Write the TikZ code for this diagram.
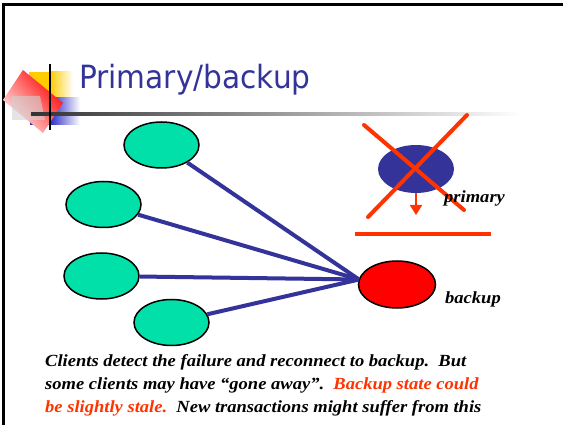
\documentclass[tikz,border=0pt]{standalone}
\usepackage{fontspec}
\setmainfont{Liberation Serif}[FakeStretch=1.09]
\newfontfamily\titlefont{DejaVu Sans}[FakeStretch=0.925]
\usetikzlibrary{arrows.meta,shapes.geometric,fadings}

\definecolor{clientgreen}{RGB}{0,224,168}
\definecolor{linkblue}{RGB}{51,51,153}
\definecolor{alertred}{RGB}{255,51,0}
\definecolor{backupred}{RGB}{255,0,0}
\definecolor{decoyellow}{RGB}{255,204,0}
\definecolor{decoblue}{RGB}{51,51,204}

\tikzset{
  client/.style={ellipse, draw=black, line width=1.5pt, fill=clientgreen,
    minimum width=75pt, minimum height=46pt, inner sep=0pt},
  server/.style={ellipse, minimum width=77pt, minimum height=47pt, inner sep=0pt},
  link/.style={draw=linkblue, line width=4pt},
  cross/.style={draw=alertred, line width=4pt, line cap=round},
  label/.style={font=\fontsize{17}{17}\selectfont\bfseries\itshape, anchor=base west, inner sep=0pt},
  bodytext/.style={font=\fontsize{17}{23}\selectfont\bfseries\itshape, anchor=base west, inner sep=0pt}
}

\begin{document}
\begin{tikzpicture}[x=1pt,y=-1pt]
\useasboundingbox (0,0) rectangle (563,425);

% slide frame
\draw[line width=3pt] (3.5,425) -- (3.5,5) -- (563,5);

% title decoration
\fill[decoyellow] (29,72) rectangle (50,98);
\shade[left color=decoyellow, right color=white] (50,72) rectangle (73,98);
\fill[decoblue] (30,98) rectangle (51,125);
\shade[left color=decoblue, right color=white] (51,98) rectangle (80,125);
\shade[top color=red, bottom color=red!8, shading angle=-50]
  (23,70) -- (63,103) -- (43,133) -- (3,100) -- cycle;
\fill[gray!35, opacity=0.6] (12,96) -- (40,96) -- (45,120) -- (12,120) -- cycle;
\shade[left color=black!80, right color=white] (31,113) rectangle (522,115.5);
\draw[line width=2pt] (50,64) -- (50,130);

% title
\node[anchor=base west, inner sep=0pt, text=linkblue,
  font=\titlefont\fontsize{32}{32}\selectfont] (title) at (79,88.5) {Primary/backup};

% clients
\node[client] (c1) at (161.5,145) {};
\node[client] (c2) at (103.5,204.5) {};
\node[client] (c3) at (101.5,276) {};
\node[client] (c4) at (171.5,322.5) {};

% failed primary
\node[server, fill=linkblue, minimum width=76pt, minimum height=48pt] (p) at (416,169) {};
\draw[cross] (364,125) -- (464,210);
\draw[cross] (467,115) -- (368,217);
\coordinate (drop) at (416,215);
\draw[draw=alertred, line width=2pt, -{Triangle[width=12pt,length=10pt]}] (p.south) -- (drop);
\node[label] (plabel) at (444,203) {primary};
\coordinate (barL) at (355,234);
\coordinate (barR) at (491,234);
\draw[draw=alertred, line width=4pt] (barL) -- (barR);

% backup
\node[server, draw=black, line width=1.5pt, fill=backupred] (b) at (397,284.5) {};
\node[label] (blabel) at (445,303) {backup};

% reconnections
\coordinate (hub) at (359,279.5);
\foreach \c in {c1,c2,c3,c4} \draw[link] (\c) -- (hub);

% caption
\node[bodytext] (t1) at (45,366) {Clients detect the failure and reconnect to backup.\ \ But};
\node[bodytext] (t2) at (45,389.5) {some clients may have “gone away”.\ \ \textcolor{alertred}{Backup state could}};
\node[bodytext] (t3) at (45,412.5) {\textcolor{alertred}{be slightly stale.}\ \ New transactions might suffer from this};
\end{tikzpicture}
\end{document}
